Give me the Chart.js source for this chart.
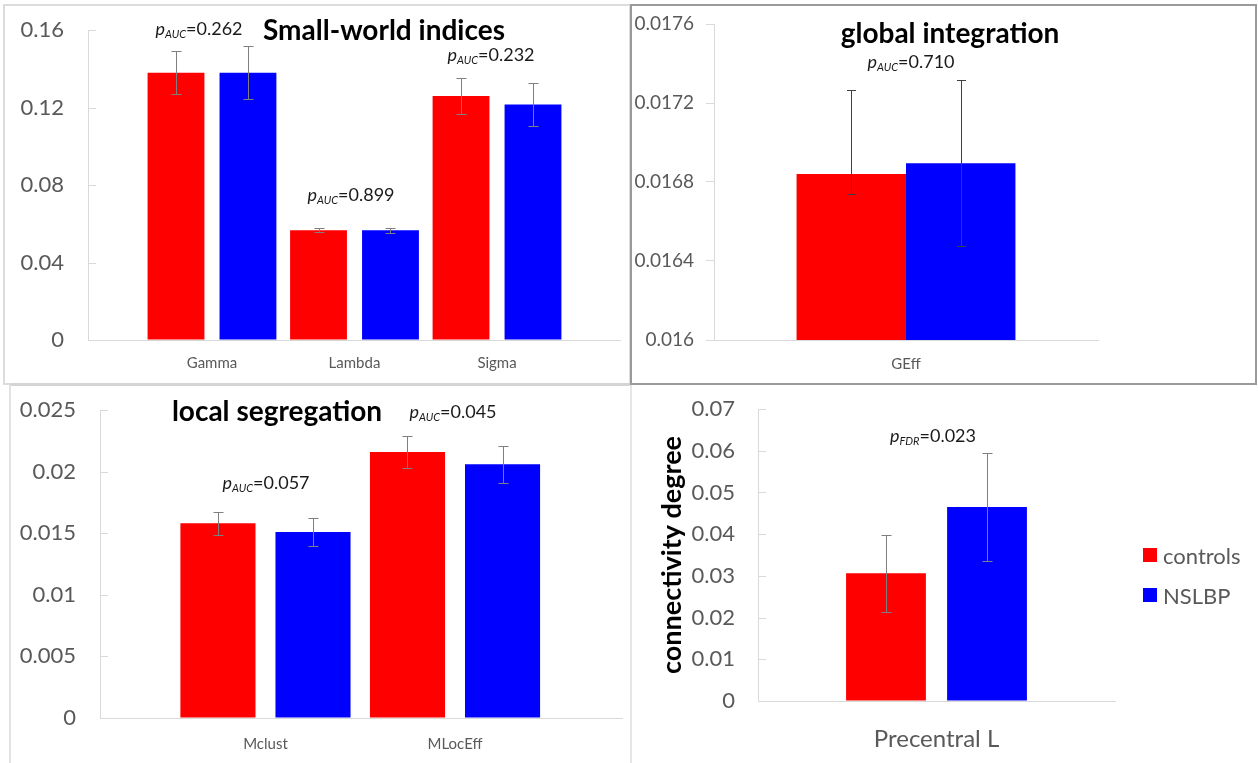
<!DOCTYPE html>
<html>
<head>
<meta charset="utf-8">
<script src="https://cdn.jsdelivr.net/npm/chart.js@4.4.1/dist/chart.umd.min.js"></script>
<style>
body { margin: 0; width: 1258px; height: 763px; position: relative; background: #fff; overflow: hidden; font-family: Lato, "Open Sans", sans-serif; }
.panel { position: absolute; box-sizing: border-box; }
canvas { position: absolute; }
.lbl { position: absolute; transform: translate(-50%, -50%); white-space: nowrap; line-height: 1; }
.title { font-weight: bold; font-size: 28px; color: #000; }
.p { font-size: 18px; color: #1a1a1a; }
.p sub { font-size: 11px; font-style: italic; vertical-align: -3px; }
.legend { position: absolute; left: 1143px; font-size: 22px; color: #595959; }
.legend div { height: 40px; display: flex; align-items: center; }
.legend span.box { width: 14px; height: 14px; margin-right: 6px; display: inline-block; }
</style>
</head>
<body>
<div class="panel" style="left:3px;top:4px;width:628px;height:381px;border:2px solid #dcdcdc"></div>
<div class="panel" style="left:9px;top:383px;width:622px;height:385px;border-left:2px solid #e2e2e2;border-top:3px solid #d4d4d4"></div>
<div class="panel" style="left:630px;top:383px;width:628px;height:385px;border-left:2px solid #e6e6e6"></div>
<div class="panel" style="left:630px;top:4px;width:627px;height:381px;border:2px solid #9a9a9a"></div>

<canvas id="sw" width="630" height="385" style="left:0;top:0"></canvas>
<canvas id="gi" width="628" height="385" style="left:630px;top:0"></canvas>
<canvas id="ls" width="630" height="378" style="left:0;top:385px"></canvas>
<canvas id="cd" width="628" height="378" style="left:630px;top:385px"></canvas>

<div class="lbl title" style="left:384px;top:29px">Small-world indices</div>
<div class="lbl p" style="left:199px;top:29px"><i>p</i><sub>AUC</sub>=0.262</div>
<div class="lbl p" style="left:351px;top:195px"><i>p</i><sub>AUC</sub>=0.899</div>
<div class="lbl p" style="left:491px;top:55px"><i>p</i><sub>AUC</sub>=0.232</div>

<div class="lbl title" style="left:950px;top:32px">global integration</div>
<div class="lbl p" style="left:911px;top:62px"><i>p</i><sub>AUC</sub>=0.710</div>

<div class="lbl title" style="left:277px;top:410px">local segregation</div>
<div class="lbl p" style="left:453px;top:412px"><i>p</i><sub>AUC</sub>=0.045</div>
<div class="lbl p" style="left:266px;top:483px"><i>p</i><sub>AUC</sub>=0.057</div>

<div class="lbl p" style="left:933px;top:436px"><i>p</i><sub>FDR</sub>=0.023</div>

<div class="legend" style="top:535px">
  <div><span class="box" style="background:#ff0000"></span>controls</div>
  <div><span class="box" style="background:#0000ff"></span>NSLBP</div>
</div>

<script>
const groups = ['controls', 'NSLBP'];
const groupColors = ['#ff0000', '#0000ff'];

// small-world indices
const swCategories = ['Gamma', 'Lambda', 'Sigma'];
const swControls = [0.138, 0.0566, 0.1259];
const swControlsErr = [0.0112, 0.001, 0.0095];
const swNslbp = [0.138, 0.0566, 0.1216];
const swNslbpErr = [0.0135, 0.0014, 0.011];

// global integration (controls error bar is lopsided in the figure)
const giCategories = ['GEff'];
const giControls = [0.016841];
const giControlsErrUp = [0.000423];
const giControlsErrDown = [0.0001];
const giNslbp = [0.016895];
const giNslbpErr = [0.00042];

// local segregation
const lsCategories = ['Mclust', 'MLocEff'];
const lsControls = [0.0158, 0.0216];
const lsControlsErr = [0.00095, 0.0013];
const lsNslbp = [0.0151, 0.0206];
const lsNslbpErr = [0.00117, 0.0015];

// connectivity degree
const cdCategories = ['Precentral L'];
const cdControls = [0.0306];
const cdControlsErr = [0.0092];
const cdNslbp = [0.0465];
const cdNslbpErr = [0.013];

const axisGrey = '#d9d9d9';
const textGrey = '#595959';

const errorBars = {
    id: 'errorBars',
    afterDatasetsDraw(chart, args, opts) {
        const ctx = chart.ctx;
        const y = chart.scales.y;
        ctx.save();
        ctx.lineWidth = 1;
        if (opts.innerTicks) {
            ctx.strokeStyle = axisGrey;
            y.ticks.forEach(t => {
                const py = Math.round(y.getPixelForValue(t.value)) + 0.5;
                ctx.beginPath();
                ctx.moveTo(chart.chartArea.left, py);
                ctx.lineTo(chart.chartArea.left + 8, py);
                ctx.stroke();
            });
        }
        ctx.strokeStyle = opts.color;
        chart.data.datasets.forEach((ds, i) => {
            chart.getDatasetMeta(i).data.forEach((bar, j) => {
                const v = typeof ds.data[j] === 'object' ? ds.data[j].y : ds.data[j];
                const x = Math.round(bar.x) + 0.5;
                const top = Math.round(y.getPixelForValue(v + ds.errUp[j])) + 0.5;
                const bot = Math.round(y.getPixelForValue(v - ds.errDown[j])) + 0.5;
                ctx.beginPath();
                ctx.moveTo(x, top); ctx.lineTo(x, bot);
                ctx.moveTo(x - opts.cap, top); ctx.lineTo(x + opts.cap, top);
                ctx.moveTo(x - opts.cap, bot); ctx.lineTo(x + opts.cap, bot);
                ctx.stroke();
            });
        });
        ctx.restore();
    }
};

function fmt(v) { return String(parseFloat(v.toFixed(5))); }

function barChart(id, o) {
    const series = [
        [o.controls, o.controlsErrUp || o.controlsErr, o.controlsErrDown || o.controlsErr],
        [o.nslbp, o.nslbpErr, o.nslbpErr]
    ];
    const datasets = series.map((s, i) => ({
        label: groups[i],
        data: o.linear ? s[0].map((v, k) => ({ x: k, y: v })) : s[0],
        errUp: s[1],
        errDown: s[2],
        backgroundColor: groupColors[i],
        categoryPercentage: o.cp,
        barPercentage: o.bp
    }));
    const xTicks = { color: textGrey, font: { family: 'Lato', size: o.xFont }, padding: o.xPad, maxRotation: 0, autoSkip: false };
    let x;
    if (o.linear) {
        x = {
            type: 'linear', min: o.xMin, max: o.xMax, offset: false,
            afterBuildTicks: s => { s.ticks = o.categories.map((c, i) => ({ value: i })); },
            ticks: Object.assign({ callback: v => o.categories[v] }, xTicks),
            grid: { display: false },
            border: { color: axisGrey },
            afterFit: s => { s.height = o.xHeight; }
        };
    } else {
        x = {
            ticks: xTicks,
            grid: { display: false },
            border: { color: axisGrey },
            afterFit: s => { s.height = o.xHeight; }
        };
    }
    // tick marks are either real (panel 2) or an invisible spacer in front of the labels
    const y = {
        min: o.yMin, max: o.yMax,
        ticks: { stepSize: o.yStep, color: textGrey, font: { family: 'Lato', size: o.yFont }, padding: o.yPad, callback: fmt },
        grid: {
            drawOnChartArea: false, drawTicks: true, tickLength: o.tickLen, color: axisGrey,
            tickColor: o.outerTicks ? axisGrey : 'rgba(0,0,0,0)'
        },
        border: { color: axisGrey },
        afterFit: s => { s.width = o.yWidth; }
    };
    if (o.yTitle) {
        y.title = { display: true, text: o.yTitle, color: '#000', font: { family: 'Lato', size: 27, weight: 'bold' }, padding: { top: 26, bottom: 0 } };
    }
    return new Chart(document.getElementById(id), {
        type: 'bar',
        data: { labels: o.linear ? undefined : o.categories, datasets: datasets },
        options: {
            responsive: false,
            animation: false,
            layout: { padding: { left: 0, right: o.right, top: o.top, bottom: 0 } },
            plugins: {
                legend: { display: false },
                tooltip: { enabled: false },
                errorBars: { color: o.errColor, cap: o.cap, innerTicks: !o.outerTicks }
            },
            scales: { x: x, y: y }
        },
        plugins: [errorBars]
    });
}

barChart('sw', {
    categories: swCategories, controls: swControls, controlsErr: swControlsErr, nslbp: swNslbp, nslbpErr: swNslbpErr,
    linear: true, xMin: -0.87, xMax: 2.863, cp: 1.01, bp: 0.79,
    yMin: 0, yMax: 0.16, yStep: 0.04, yWidth: 88, yFont: 22, yPad: 4, tickLen: 20,
    xHeight: 45, xFont: 15, xPad: 6, top: 30, right: 10,
    errColor: '#7f7f7f', cap: 5
});

barChart('gi', {
    categories: giCategories, controls: giControls, controlsErrUp: giControlsErrUp, controlsErrDown: giControlsErrDown,
    nslbp: giNslbp, nslbpErr: giNslbpErr,
    cp: 0.57, bp: 1.0,
    yMin: 0.016, yMax: 0.0176, yStep: 0.0004, yWidth: 84, yFont: 19, yPad: 12, tickLen: 8, outerTicks: true,
    xHeight: 45, xFont: 15, xPad: 7, top: 24, right: 160,
    errColor: '#404040', cap: 4.5
});

barChart('ls', {
    categories: lsCategories, controls: lsControls, controlsErr: lsControlsErr, nslbp: lsNslbp, nslbpErr: lsNslbpErr,
    linear: true, xMin: -0.873, xMax: 1.881, cp: 1.003, bp: 0.79,
    yMin: 0, yMax: 0.025, yStep: 0.005, yWidth: 100, yFont: 22, yPad: 4, tickLen: 20,
    xHeight: 45, xFont: 15, xPad: 9, top: 25, right: 8,
    errColor: '#7f7f7f', cap: 5
});

barChart('cd', {
    categories: cdCategories, controls: cdControls, controlsErr: cdControlsErr, nslbp: cdNslbp, nslbpErr: cdNslbpErr,
    cp: 0.566, bp: 0.79,
    yMin: 0, yMax: 0.07, yStep: 0.01, yWidth: 128, yFont: 22, yPad: 4, tickLen: 19,
    yTitle: 'connectivity degree',
    xHeight: 62, xFont: 24, xPad: 16, top: 24, right: 143,
    errColor: '#7f7f7f', cap: 5
});
</script>
</body>
</html>
